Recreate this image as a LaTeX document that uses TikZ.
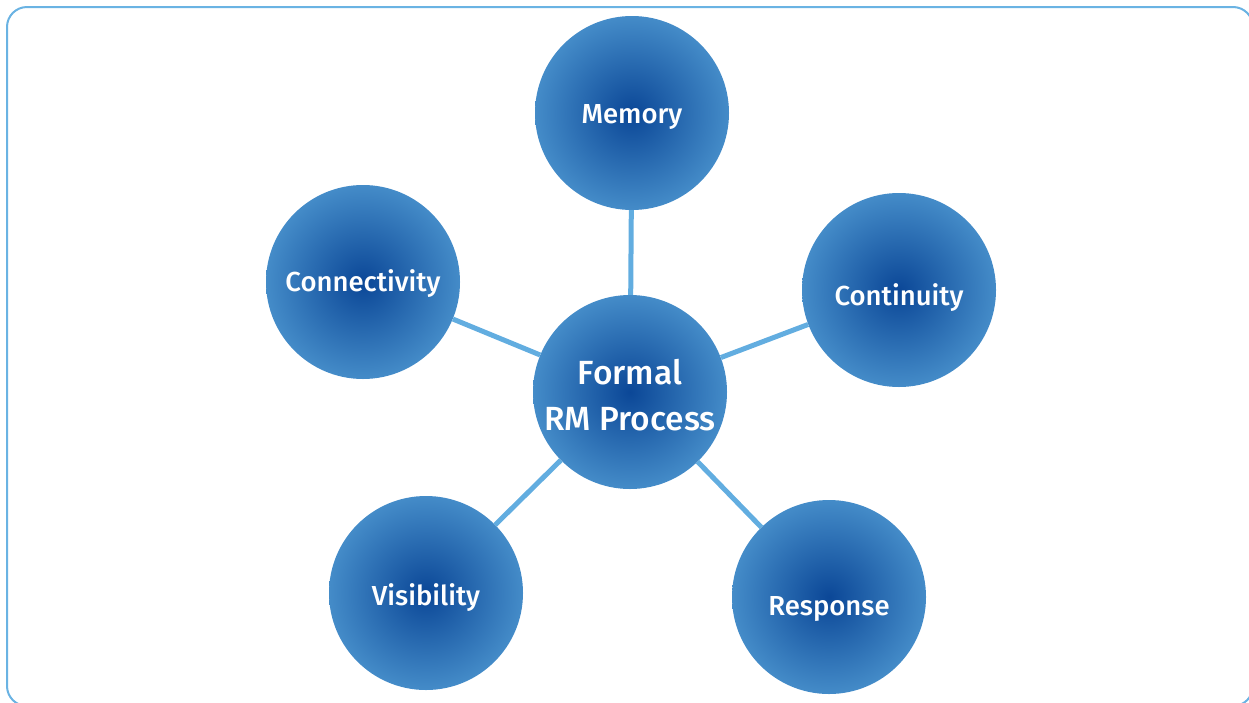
\documentclass[tikz,border=0pt]{standalone}
\usepackage{fontspec}
\setmainfont{Fira Sans Medium}
\definecolor{balldark}{HTML}{0B4797}
\definecolor{balllight}{HTML}{5BA7DC}
\definecolor{linkblue}{HTML}{62ADE0}
\definecolor{framecol}{HTML}{6AB3E3}
\pgfdeclareradialshading{ballshade}{\pgfpoint{0bp}{0bp}}{color(0bp)=(balldark); color(35bp)=(balllight); color(50bp)=(balllight)}
\newcommand\lowered[2]{\raisebox{-#1}[0pt][0pt]{#2}}
\tikzset{
  ball/.style={circle, minimum size=194pt, inner sep=0pt, shading=ballshade, text=white, font=\fontsize{27.5}{32}\selectfont, align=center},
  hub/.style={ball, font=\fontsize{33.5}{46}\selectfont},
  link/.style={draw=linkblue, line width=5pt},
  frame/.style={draw=framecol, line width=2pt, rounded corners=20pt}
}
\begin{document}
\begin{tikzpicture}[x=1pt,y=-1pt]
\useasboundingbox (0,0) rectangle (1249,702);
\draw[frame] (7,7) rectangle (1253,706);
\node[hub] (c) at (630,392) {\lowered{15pt}{Formal}\\\lowered{15pt}{RM Process}};
\node[ball] (mem) at (632,113) {\lowered{10pt}{Memory}};
\node[ball] (con) at (363,282) {\lowered{9pt}{Connectivity}};
\node[ball] (cont) at (899,290) {\lowered{15pt}{Continuity}};
\node[ball] (vis) at (426,593) {\lowered{12pt}{Visibility}};
\node[ball] (res) at (829,597) {\lowered{18pt}{Response}};
\draw[link] (c) -- (mem);
\draw[link] (c) -- (con);
\draw[link] (c) -- (cont);
\draw[link] (c) -- (vis);
\draw[link] (c) -- (res);
\end{tikzpicture}
\end{document}
